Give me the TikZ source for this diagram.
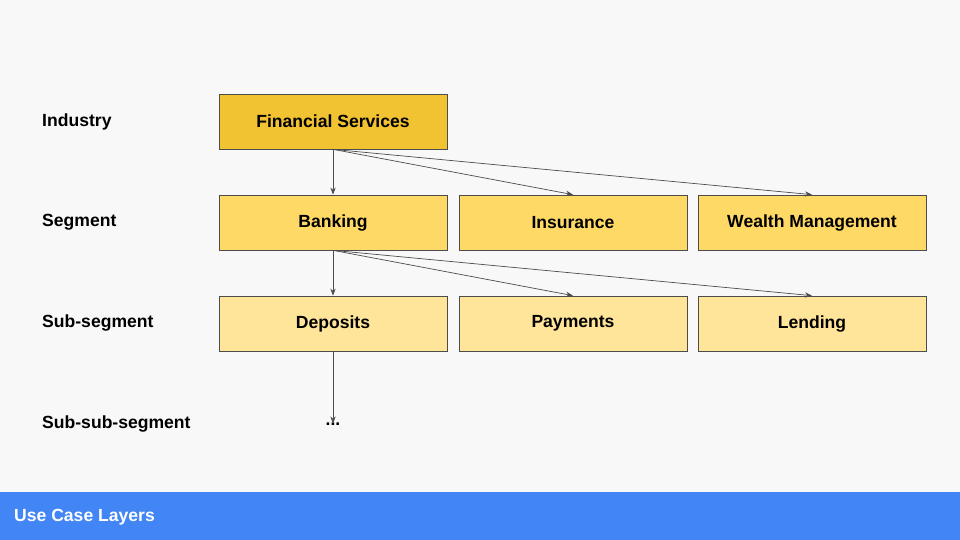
\documentclass[tikz,border=0pt]{standalone}
\usepackage{fontspec}
\setmainfont{Liberation Sans}
\usetikzlibrary{arrows.meta}
\definecolor{bgcol}{HTML}{F8F8F8}
\definecolor{barcol}{HTML}{4285F4}
\definecolor{lvlone}{HTML}{F1C232}
\definecolor{lvltwo}{HTML}{FFD966}
\definecolor{lvlthree}{HTML}{FFE599}
\tikzset{
  layerbox/.style={draw=black!70, line width=0.4pt, minimum width=228*0.02cm,
    minimum height=55*0.02cm, font=\bfseries\fontsize{10}{12}\selectfont},
  layerlabel/.style={anchor=west, font=\bfseries\fontsize{10}{12}\selectfont},
  link/.style={-{Stealth[length=4pt,width=3pt]}, draw=black!70, line width=0.4pt}
}
\begin{document}
\begin{tikzpicture}[x=0.02cm, y=-0.02cm]
  \fill[bgcol] (0,0) rectangle (960,492);
  \fill[barcol] (0,492) rectangle (960,540);
  \useasboundingbox (0,0) rectangle (960,540);
  \node[layerlabel, text=white] (title) at (8,517) {Use Case Layers};
  % level labels
  \node[layerlabel] (industry) at (36,122) {Industry};
  \node[layerlabel] (segment) at (36,222) {Segment};
  \node[layerlabel] (subseg) at (36,323) {Sub-segment};
  \node[layerlabel] (subsubseg) at (36,424) {Sub-sub-segment};
  % boxes
  \node[layerbox, fill=lvlone] (fin) at (333,121.5) {Financial Services};
  \node[layerbox, fill=lvltwo] (bank) at (333,222.5) {Banking};
  \node[layerbox, fill=lvltwo] (ins) at (573,222.5) {Insurance};
  \node[layerbox, fill=lvltwo] (wealth) at (812,222.5) {Wealth Management};
  \node[layerbox, fill=lvlthree] (dep) at (333,323.5) {Deposits};
  \node[layerbox, fill=lvlthree] (pay) at (573,323.5) {Payments};
  \node[layerbox, fill=lvlthree] (lend) at (812,323.5) {Lending};
  \node[font=\bfseries\fontsize{10}{12}\selectfont] (more) at (333,424) {...};
  % connectors
  \foreach \t in {bank,ins,wealth}
    \draw[link] (fin.south) -- (\t.north);
  \foreach \t in {dep,pay,lend}
    \draw[link] (bank.south) -- (\t.north);
  \draw[link] (dep.south) -- ([yshift=-4pt]more.north);
\end{tikzpicture}
\end{document}
